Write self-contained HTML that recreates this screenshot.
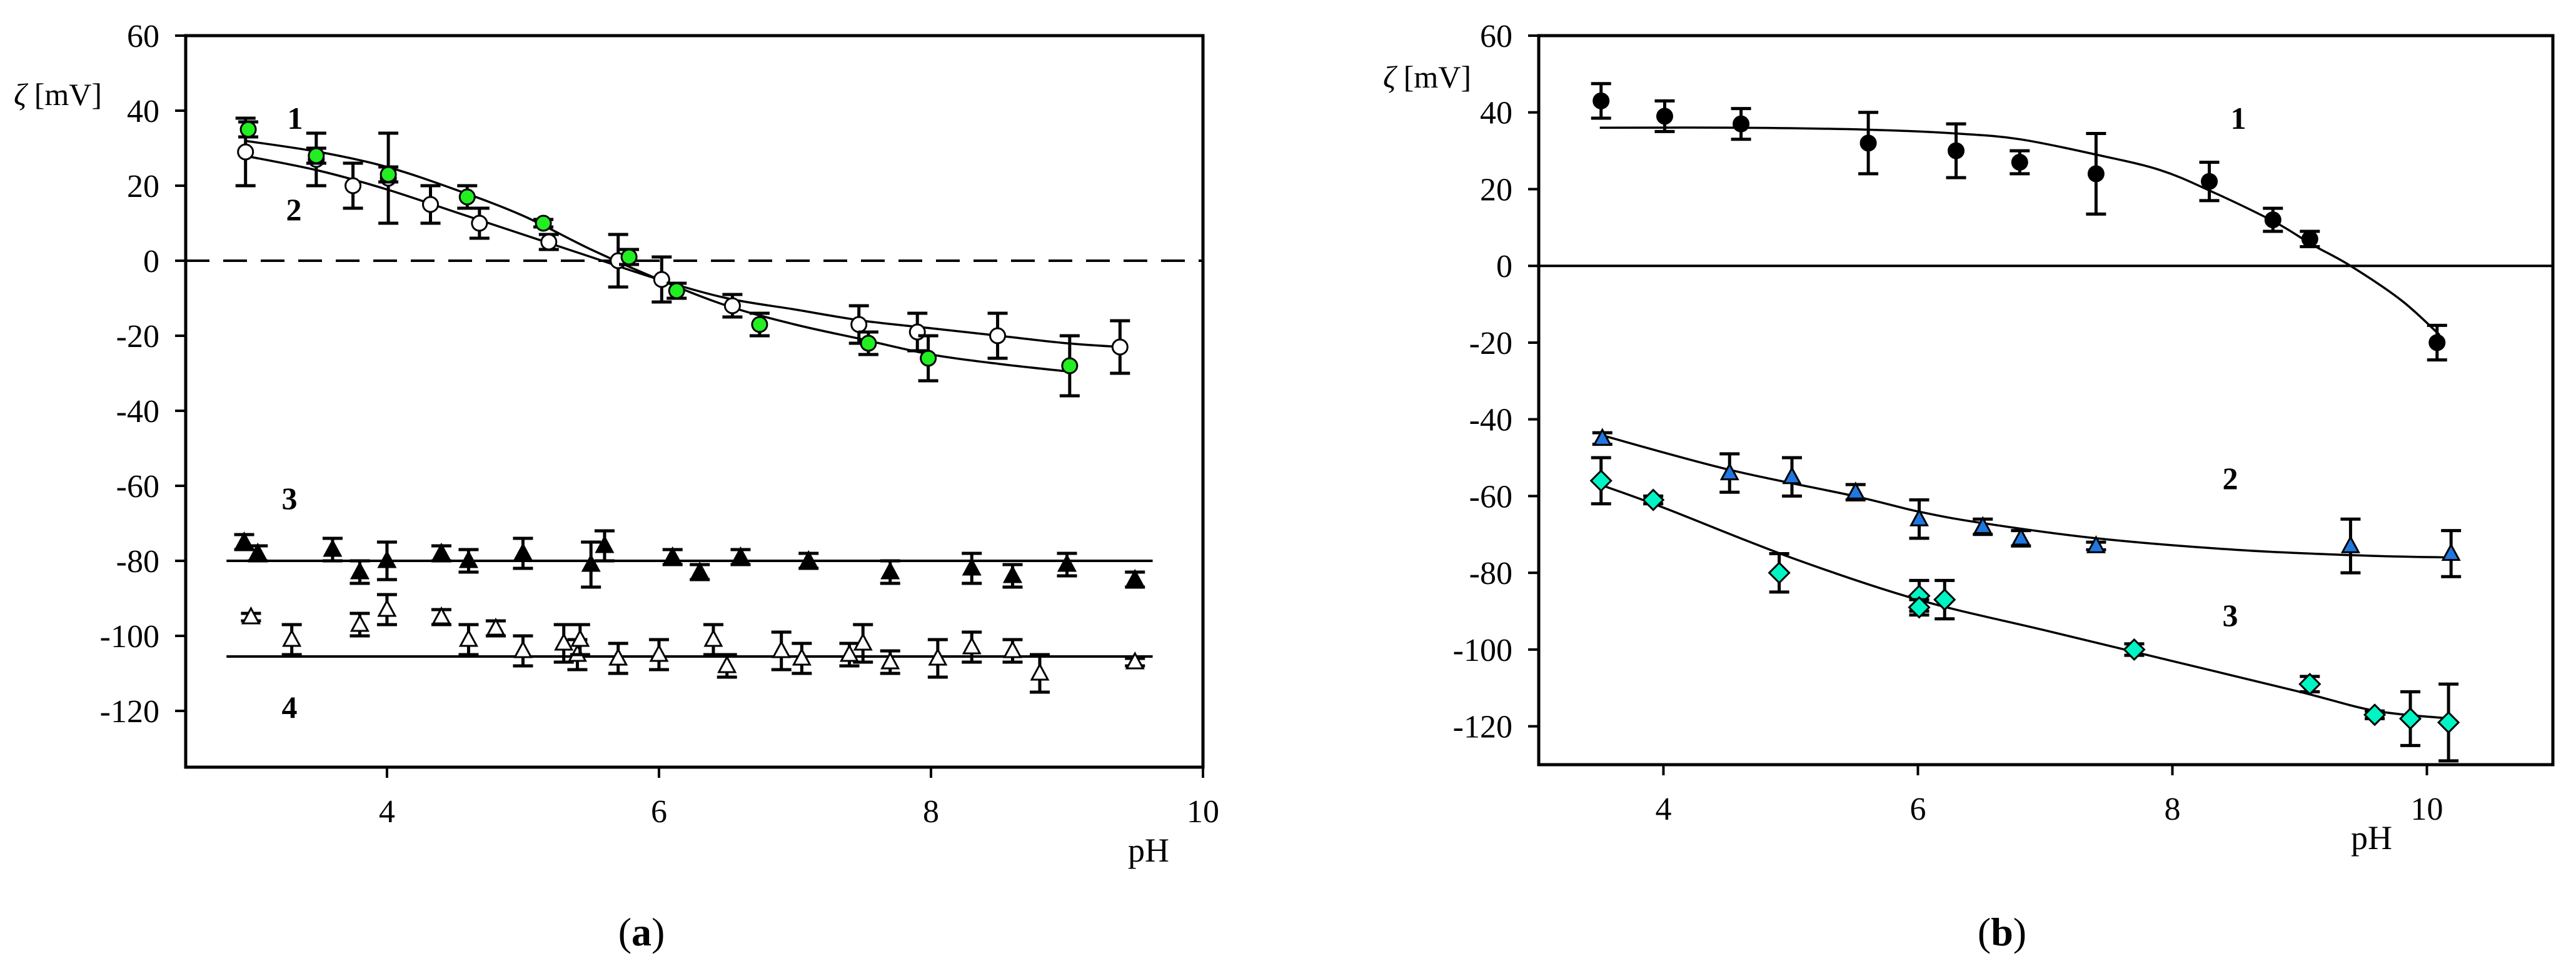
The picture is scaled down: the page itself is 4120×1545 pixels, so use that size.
<!DOCTYPE html>
<html><head><meta charset="utf-8">
<style>
html,body{margin:0;padding:0;background:#fff;}
svg{display:block;}
text{font-family:"Liberation Serif",serif;fill:#000;}
</style></head>
<body>
<svg id="chart" xmlns="http://www.w3.org/2000/svg" width="4120" height="1545" viewBox="0 0 4120 1545">
<rect x="0" y="0" width="4120" height="1545" fill="#fff"/>
<g id="pa"></g>
<g id="pb"></g>
</svg>
<script>
// ---------- Panel (a) data ----------
const aYTicks = [60,40,20,0,-20,-40,-60,-80,-100,-120];
const aXTicks = [4,6,8,10];
const a1pH  = [2.98,3.48,4.01,4.59,5.15,5.78,6.13,6.74,7.54,7.98,9.02];
const a1Val = [35,28,23,17,10,1,-8,-17,-22,-26,-28];
const a1Err = [2,2,2,3,1,2,2,3,3,6,8];
const a1FitPH  = [2.95,3.5,4,4.5,5,5.5,6,6.5,7,7.5,8,8.5,9];
const a1FitVal = [32,29,25,19,12,3,-5,-12,-17,-21,-25,-27.5,-29.5];
const a2pH  = [2.96,3.48,3.75,4.01,4.32,4.68,5.19,5.7,6.02,6.54,7.47,7.9,8.49,9.39];
const a2Val = [29,27,20,22,15,10,5,0,-5,-12,-17,-19,-20,-23];
const a2Err = [9,7,6,12,5,4,2,7,6,3,5,5,6,7];
const a2FitPH  = [2.95,3.5,4,4.5,5,5.5,6,6.5,7,7.5,8,8.5,9,9.4];
const a2FitVal = [28,24,19,13,7,1,-5,-10,-13,-16,-18,-20,-22,-23];
const a3pH  = [2.95,3.05,3.6,3.8,4.0,4.4,4.6,5.0,5.5,5.6,6.1,6.3,6.6,7.1,7.7,8.3,8.6,9.0,9.5];
const a3Val = [-75,-78,-77,-83,-80,-78,-80,-78,-81,-76,-79,-83,-79,-80,-83,-82,-84,-81,-85];
const a3Err = [2,2,3,3,5,2,3,4,6,4,2,2,2,2,3,4,3,3,2];
const a3Fit = -80;
const a4pH  = [3.0,3.3,3.8,4.0,4.4,4.6,4.8,5.0,5.3,5.4,5.42,5.7,6.0,6.4,6.5,6.9,7.05,7.4,7.5,7.7,8.05,8.3,8.6,8.8,9.5];
const a4Val = [-95,-101,-97,-93,-95,-101,-98,-104,-102,-105,-101,-106,-105,-101,-108,-104,-106,-105,-102,-107,-106,-103,-104,-110,-107];
const a4Err = [1,4,3,4,2,4,2,4,5,4,4,4,4,4,3,5,4,3,5,3,5,4,3,5,1];
const a4Fit = -105.5;
const aLinePH = [2.82,9.63];
// ---------- Panel (b) data ----------
const bYTicks = [60,40,20,0,-20,-40,-60,-80,-100,-120];
const bXTicks = [4,6,8,10];
const b1pH  = [3.51,4.01,4.61,5.61,6.3,6.8,7.4,8.29,8.79,9.08,10.08];
const b1Val = [43,39,37,32,30,27,24,22,12,7,-20];
const b1Err = [4.5,4,4,8,7,3,10.5,5,3,2,4.5];
const b1FitPH  = [3.5,4.6,5.6,6.3,6.8,7.4,7.9,8.3,8.8,9.1,9.4,9.8,10.1];
const b1FitVal = [36,36,35.5,34.5,33,29,25,19.5,11.5,5.5,0,-9,-18];
const b2pH  = [3.52,4.52,5.01,5.51,6.01,6.51,6.81,7.4,9.4,10.19];
const b2Val = [-45,-54,-55,-59,-66,-68,-71,-73,-73,-75];
const b2Err = [1.5,5,5,2,5,2,2,1,7,6];
const b2FitPH  = [3.5,4.5,5.5,6,6.5,7.4,8.5,9.5,10.2];
const b2FitVal = [-44,-53,-60,-64,-67,-71,-74,-75.5,-76];
const b3pH  = [3.51,3.92,4.91,6.01,6.01,6.21,7.7,9.08,9.59,9.87,10.17];
const b3Val = [-56,-61,-80,-86,-89,-87,-100,-109,-117,-118,-119];
const b3Err = [6,1,5,4,2,5,1.5,2,1,7,10];
const b3FitPH  = [3.5,4,5,6,7,8,9,9.6,10.2];
const b3FitVal = [-57,-63,-76,-87,-95,-103,-111,-116,-118];

const NS = "http://www.w3.org/2000/svg";
function mk(parent, tag, attrs, txt){
  const e = document.createElementNS(NS, tag);
  for (const k in attrs) e.setAttribute(k, attrs[k]);
  if (txt !== undefined) e.textContent = txt;
  parent.appendChild(e);
  return e;
}
const A = {x0:297, x1:1924, d0:2.52, d1:10, y0:57, y1:1227, v0:60, v1:-135};
const B = {x0:2461, x1:4083, d0:3.02, d1:10.99, y0:57, y1:1223, v0:60, v1:-130};
function sx(P, v){ return P.x0 + (v-P.d0)/(P.d1-P.d0)*(P.x1-P.x0); }
function sy(P, v){ return P.y0 + (v-P.v0)/(P.v1-P.v0)*(P.y1-P.y0); }

function spline(P, xs, ys){
  const pts = xs.map((x,i)=>[sx(P,x), sy(P,ys[i])]);
  let d = "M"+pts[0][0]+","+pts[0][1];
  for (let i=0;i<pts.length-1;i++){
    const p0 = pts[Math.max(0,i-1)], p1 = pts[i], p2 = pts[i+1], p3 = pts[Math.min(pts.length-1,i+2)];
    const c1x = p1[0]+(p2[0]-p0[0])/6, c1y = p1[1]+(p2[1]-p0[1])/6;
    const c2x = p2[0]-(p3[0]-p1[0])/6, c2y = p2[1]-(p3[1]-p1[1])/6;
    d += " C"+c1x+","+c1y+" "+c2x+","+c2y+" "+p2[0]+","+p2[1];
  }
  return d;
}

function axes(g, P, yTicks, xTicks, dashedZero){
  mk(g,"rect",{x:P.x0,y:P.y0,width:P.x1-P.x0,height:P.y1-P.y0,fill:"none",stroke:"#000","stroke-width":5,});
  yTicks.forEach(v=>{
    const y = sy(P,v);
    mk(g,"line",{x1:P.x0-17,x2:P.x0,y1:y,y2:y,stroke:"#000","stroke-width":4,});
    mk(g,"text",{x:P.x0-42,y:y+18,"font-size":52,"text-anchor":"end",},String(v));
  });
  xTicks.forEach(v=>{
    const x = sx(P,v);
    mk(g,"line",{x1:x,x2:x,y1:P.y1,y2:P.y1+17,stroke:"#000","stroke-width":4,});
    mk(g,"text",{x:x,y:P.y1+88,"font-size":52,"text-anchor":"middle",},String(v));
  });
  const z = sy(P,0);
  mk(g,"line",Object.assign({x1:P.x0,x2:P.x1,y1:z,y2:z,stroke:"#000","stroke-width":4,}, dashedZero?{"stroke-dasharray":"38,22"}:{}));
}

function marker(g, P, shape, x, y, fill){
  const cx = sx(P,x), cy = sy(P,y), r = 12;
  let e;
  if (shape==="circle") e = mk(g,"circle",{cx:cx,cy:cy,r:r,fill:fill,stroke:"#000","stroke-width":3});
  else if (shape==="tri") e = mk(g,"polygon",{points:(cx)+","+(cy-14)+" "+(cx-13)+","+(cy+10)+" "+(cx+13)+","+(cy+10),fill:fill,stroke:"#000","stroke-width":3});
  else e = mk(g,"polygon",{points:cx+","+(cy-16)+" "+(cx+16)+","+cy+" "+cx+","+(cy+16)+" "+(cx-16)+","+cy,fill:fill,stroke:"#000","stroke-width":3});
  
  
}

function series(g, P, name, xs, ys, es, shape, fill){
  const sg = mk(g,"g",{});
  xs.forEach((x,i)=>{
    const cx = sx(P,x), yt = sy(P,ys[i]+es[i]), yb = sy(P,ys[i]-es[i]);
    const eb = mk(sg,"path",{d:"M"+cx+","+yt+"V"+yb+"M"+(cx-16)+","+yt+"H"+(cx+16)+"M"+(cx-16)+","+yb+"H"+(cx+16),stroke:"#000","stroke-width":5,fill:"none"});
    
    
    marker(sg,P,shape,x,ys[i],fill);
  });
}
function fit(g, P, name, xs, ys){
  const p = mk(g,"path",{d:spline(P,xs,ys),fill:"none",stroke:"#000","stroke-width":3.5});
  
  
}
function hline(g, P, name, v){
  const l = mk(g,"line",{x1:sx(P,aLinePH[0]),x2:sx(P,aLinePH[1]),y1:sy(P,v),y2:sy(P,v),stroke:"#000","stroke-width":4});
  
  
}

const ga = document.getElementById("pa");
axes(ga, A, aYTicks, aXTicks, true);
fit(ga, A, "fit-curve-1", a1FitPH, a1FitVal);
fit(ga, A, "fit-curve-2", a2FitPH, a2FitVal);
hline(ga, A, "fit-line-3", a3Fit);
hline(ga, A, "fit-line-4", a4Fit);
series(ga, A, "series-2", a2pH, a2Val, a2Err, "circle", "#fff");
series(ga, A, "series-1", a1pH, a1Val, a1Err, "circle", "#22ee22");
series(ga, A, "series-3", a3pH, a3Val, a3Err, "tri", "#000");
series(ga, A, "series-4", a4pH, a4Val, a4Err, "tri", "#fff");
mk(ga,"text",{x:22,y:168,"font-size":50,}).innerHTML='<tspan font-style="italic">ζ</tspan> [mV]';
mk(ga,"text",{x:1837,y:1378,"font-size":54,"text-anchor":"middle",},"pH");
[["1",472,206],["2",470,352],["3",463,814],["4",463,1148]].forEach(t=>{
  const e = mk(ga,"text",{x:t[1],y:t[2],"font-size":50,"font-weight":"bold","text-anchor":"middle"},t[0]);
  
  
});
mk(ga,"text",{x:1026,y:1512,"font-size":64,"text-anchor":"middle",}).innerHTML='(<tspan font-weight="bold">a</tspan>)';

const gb = document.getElementById("pb");
axes(gb, B, bYTicks, bXTicks, false);
fit(gb, B, "fit-curve-1", b1FitPH, b1FitVal);
fit(gb, B, "fit-curve-2", b2FitPH, b2FitVal);
fit(gb, B, "fit-curve-3", b3FitPH, b3FitVal);
series(gb, B, "series-1", b1pH, b1Val, b1Err, "circle", "#000");
series(gb, B, "series-2", b2pH, b2Val, b2Err, "tri", "#1f78e0");
series(gb, B, "series-3", b3pH, b3Val, b3Err, "diamond", "#00f5c4");
mk(gb,"text",{x:2212,y:140,"font-size":50,}).innerHTML='<tspan font-style="italic">ζ</tspan> [mV]';
mk(gb,"text",{x:3793,y:1358,"font-size":54,"text-anchor":"middle",},"pH");
[["1",3580,206],["2",3567,782],["3",3567,1001]].forEach(t=>{
  const e = mk(gb,"text",{x:t[1],y:t[2],"font-size":50,"font-weight":"bold","text-anchor":"middle"},t[0]);
  
  
});
mk(gb,"text",{x:3202,y:1512,"font-size":64,"text-anchor":"middle",}).innerHTML='(<tspan font-weight="bold">b</tspan>)';
</script>
</body></html>
